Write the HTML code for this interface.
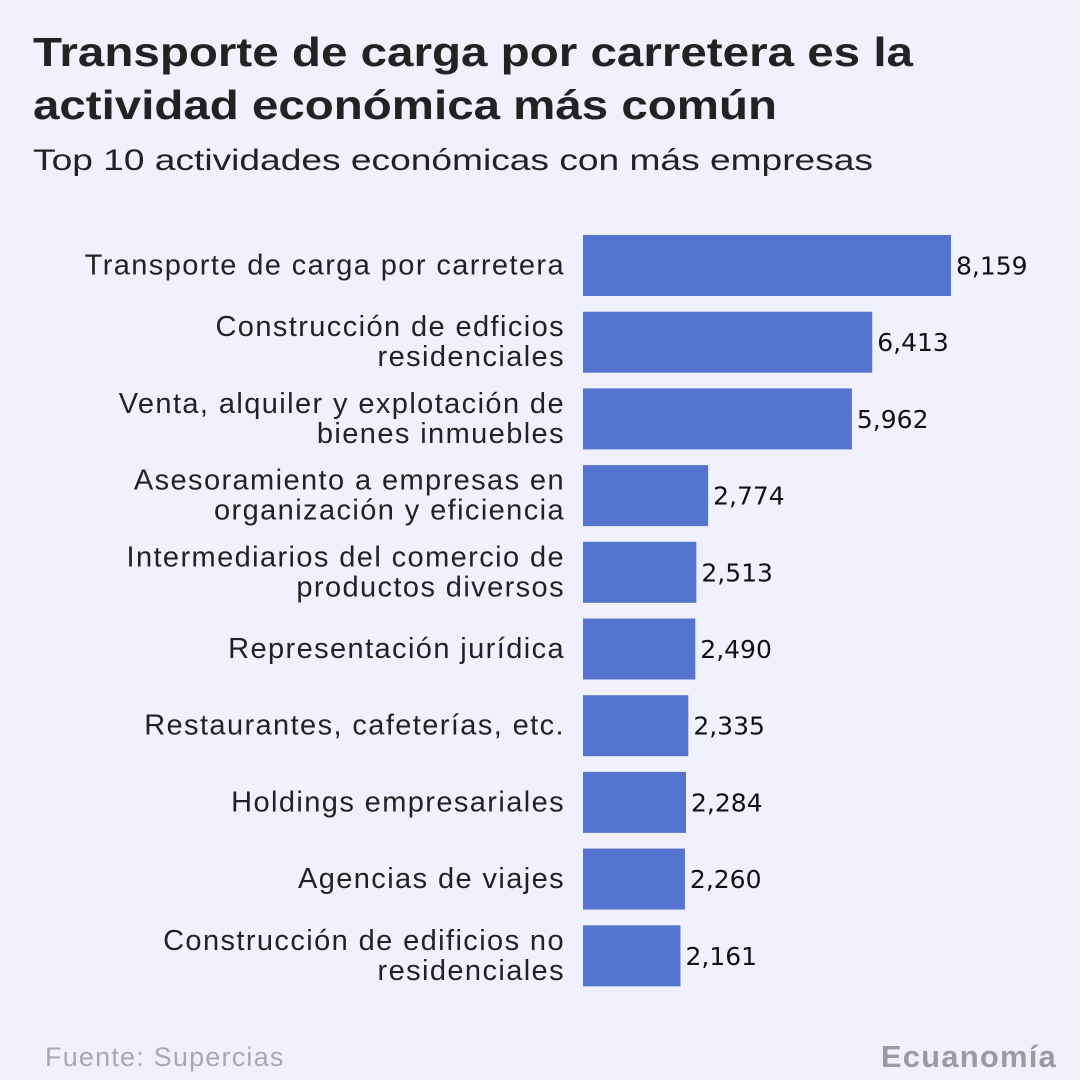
<!DOCTYPE html>
<html><head><meta charset="utf-8"><style>
html,body{margin:0;padding:0;background:#f0f1fd}
svg{display:block}
text{font-family:"Liberation Sans",sans-serif}
</style></head><body>
<svg width="1080" height="1080" viewBox="0 0 1080 1080">
<rect width="1080" height="1080" fill="#f0f1fd"/>
<text x="33" y="66" font-size="41" font-weight="bold" fill="#222" textLength="880" lengthAdjust="spacingAndGlyphs">Transporte de carga por carretera es la</text>
<text x="33" y="119" font-size="41" font-weight="bold" fill="#222" textLength="744" lengthAdjust="spacingAndGlyphs">actividad económica más común</text>
<text x="33" y="170" font-size="30" fill="#222" textLength="840" lengthAdjust="spacingAndGlyphs">Top 10 actividades económicas con más empresas</text>
<g id="bars"></g>
<text x="45" y="1066" font-size="27" letter-spacing="1.2" fill="#a8a8ae">Fuente: Supercias</text>
<text x="1057" y="1067" font-size="31" font-weight="bold" letter-spacing="1.2" fill="#9a9aa0" text-anchor="end">Ecuanomía</text>
</svg>
<script>
const categories=[["Transporte de carga por carretera"],["Construcción de edficios","residenciales"],["Venta, alquiler y explotación de","bienes inmuebles"],["Asesoramiento a empresas en","organización y eficiencia"],["Intermediarios del comercio de","productos diversos"],["Representación jurídica"],["Restaurantes, cafeterías, etc."],["Holdings empresariales"],["Agencias de viajes"],["Construcción de edificios no","residenciales"]];
const values=[8159,6413,5962,2774,2513,2490,2335,2284,2260,2161];
const valueLabels=["8,159","6,413","5,962","2,774","2,513","2,490","2,335","2,284","2,260","2,161"];
const NS="http://www.w3.org/2000/svg";
const g=document.getElementById('bars');
const x0=583, xScale=v=>v*368/8159;
const yCenter=i=>265.5+i*76.7;
const bh=61;
function mk(tag,attrs){const e=document.createElementNS(NS,tag);for(const k in attrs)e.setAttribute(k,attrs[k]);return e;}
values.forEach((v,i)=>{
  const c=yCenter(i);
  const r=mk('rect',{x:x0,y:c-bh/2,width:xScale(v),height:bh,fill:'#5574cf'});
  
  
  g.appendChild(r);
  const t=mk('text',{x:x0+xScale(v)+5,y:c+9,'font-size':25,fill:'#111'});
  
  
  t.style.fontFamily='"DejaVu Sans",sans-serif';
  t.textContent=valueLabels[i];
  g.appendChild(t);
  const lines=categories[i];
  lines.forEach((ln,j)=>{
    const yy=lines.length===1?c+9:c-6+j*30;
    const l=mk('text',{x:565,y:yy,'font-size':29,fill:'#222','text-anchor':'end','letter-spacing':'1.4'});
    
    
    l.textContent=ln;
    g.appendChild(l);
  });
});
</script>
</body></html>
